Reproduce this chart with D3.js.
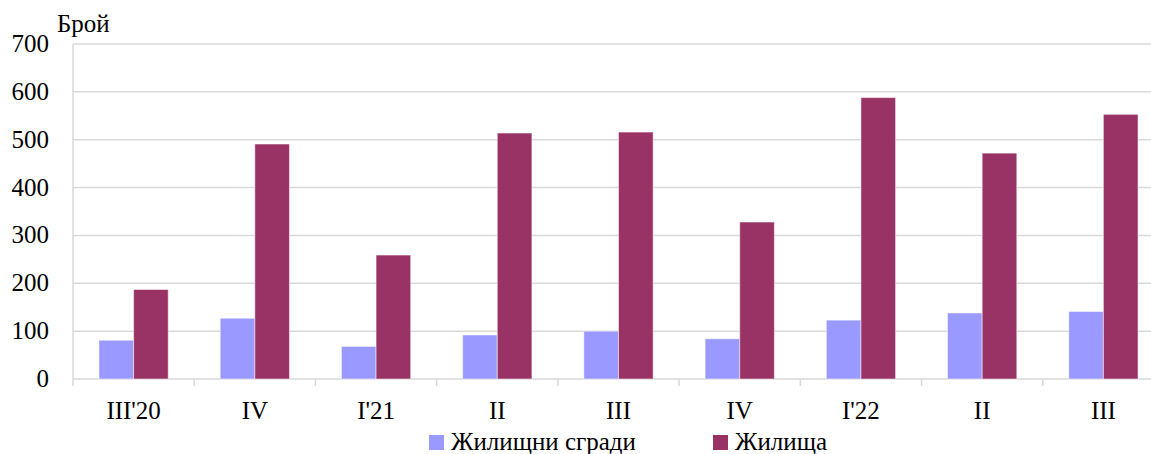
<!DOCTYPE html>
<html lang="bg">
<head>
<meta charset="UTF-8">
<title>Жилищни сгради и жилища</title>
<script src="https://cdn.jsdelivr.net/npm/d3@7"></script>
<style>
  * { margin: 0; padding: 0; box-sizing: border-box; }
  body { background: #fff; overflow: hidden; }
  svg { display: block; }
  svg text { font-family: 'Liberation Serif', 'Times New Roman', serif; fill: #000; }
</style>
</head>
<body>
<svg width="1151" height="454"></svg>
<script>
var categories = ["III'20", "IV", "I'21", "II", "III", "IV", "I'22", "II", "III"];
var buildings = [81, 127, 68, 92, 100, 84, 123, 138, 141];
var dwellings = [187, 491, 259, 514, 516, 328, 588, 472, 553];
var seriesNames = ["Жилищни сгради", "Жилища"];
var seriesColors = ["#9999ff", "#993366"];
var yTicks = [0, 100, 200, 300, 400, 500, 600, 700];

var marge = { top: 44, left: 73, bottom: 75 };
var plotW = 1091; // the last band runs past the picture edge
var plotH = 454 - marge.top - marge.bottom;

var svg = d3.select("svg");
var g = svg.append("g").attr("transform", "translate(" + marge.left + "," + marge.top + ")");

var x0 = d3.scaleBand().domain(d3.range(categories.length)).range([0, plotW]).paddingInner(0).paddingOuter(0);
// gap width 150% of a bar -> 0.75 bar on each side
var x1 = d3.scaleBand().domain([0, 1]).range([x0.bandwidth() * 0.2143, x0.bandwidth() * 0.7857]);
var y = d3.scaleLinear().domain([0, 700]).range([plotH, 0]);

// grid
g.selectAll("line.grid").data(yTicks).enter().append("line")
  .attr("class", "grid")
  .attr("x1", 0).attr("x2", plotW)
  .attr("y1", function (d) { return y(d); }).attr("y2", function (d) { return y(d); })
  .attr("stroke", "#d9d9d9").attr("stroke-width", 1.5);

// y axis line
g.append("line").attr("x1", 0).attr("x2", 0).attr("y1", 0).attr("y2", plotH)
  .attr("stroke", "#d9d9d9").attr("stroke-width", 1.5);

// y labels
g.selectAll("text.ytick").data(yTicks).enter().append("text")
  .attr("class", "ytick")
  .attr("x", -24).attr("y", function (d) { return y(d) + 8; })
  .attr("text-anchor", "end").style("font-size", "25px")
  .text(function (d) { return d; });

g.append("text").attr("x", -16).attr("y", -12).style("font-size", "25px").text("Брой");

// bars
var data = categories.map(function (c, i) { return [buildings[i], dwellings[i]]; });
var groups = g.selectAll("g.cat").data(data).enter().append("g")
  .attr("transform", function (d, i) { return "translate(" + x0(i) + ",0)"; });
groups.selectAll("rect").data(function (d) { return d; }).enter().append("rect")
  .attr("x", function (d, j) { return x1(j); })
  .attr("width", x1.bandwidth())
  .attr("y", function (d) { return y(d); })
  .attr("height", function (d) { return plotH - y(d); })
  .attr("fill", function (d, j) { return seriesColors[j]; })
  .attr("stroke", "#ffffff").attr("stroke-opacity", 0.5).attr("stroke-width", 1);

// x axis
var xAxis = d3.axisBottom(x0).tickSize(0).tickFormat(function (i) { return categories[i]; });
var ax = g.append("g").attr("transform", "translate(0," + plotH + ")").call(xAxis);
ax.select(".domain").remove();
ax.selectAll("text").style("font-size", "25px").attr("dy", 0).attr("y", 40);
g.selectAll("line.xtick").data(d3.range(categories.length + 1)).enter().append("line")
  .attr("x1", function (i) { return i * x0.bandwidth(); })
  .attr("x2", function (i) { return i * x0.bandwidth(); })
  .attr("y1", plotH).attr("y2", plotH + 7)
  .attr("stroke", "#d9d9d9").attr("stroke-width", 1.5);

// legend
var legendX = [429, 713];
var lg = svg.selectAll("g.legend").data(seriesNames).enter().append("g")
  .attr("transform", function (d, i) { return "translate(" + legendX[i] + ",435)"; });
lg.append("rect").attr("width", 15).attr("height", 15)
  .attr("fill", function (d, i) { return seriesColors[i]; });
lg.append("text").attr("x", 22).attr("y", 15).style("font-size", "25px").text(function (d) { return d; });
</script>
</body>
</html>
